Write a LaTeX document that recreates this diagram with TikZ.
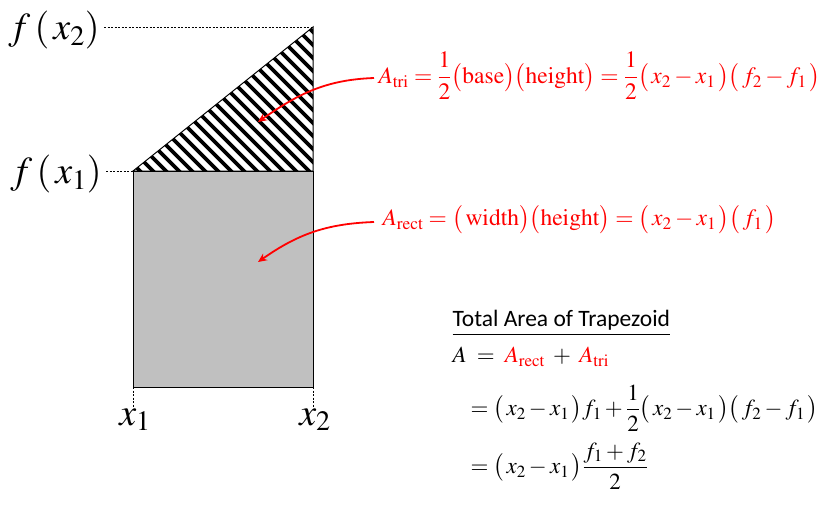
\documentclass[tikz,border=0pt]{standalone}
\usepackage{mathptmx}
\usepackage[no-math]{fontspec}
\setmainfont{Liberation Serif}
\newfontfamily\calibri{Carlito}
\usetikzlibrary{arrows.meta}
\definecolor{eqred}{RGB}{255,0,0}
\definecolor{rectgray}{RGB}{192,192,192}
\newcommand{\bp}[1]{\bigl(#1\bigr)}
\newcommand{\vp}[1]{\bigl(\,#1\,\bigr)}
\begin{document}
\begin{tikzpicture}[
    x=1pt, y=-1pt,
    line width=1pt,
    guide/.style={dashed, line width=0.8pt, dash pattern=on 2pt off 1.5pt},
    redarrow/.style={draw=eqred, line width=1.8pt, -{Stealth[length=9pt,width=8pt]}},
    axislabel/.style={inner sep=0pt, font=\fontsize{38}{44}\selectfont},
    redeq/.style={inner sep=0pt, anchor=west, text=eqred, font=\fontsize{23.5}{28}\selectfont},
    sumeq/.style={inner sep=0pt, anchor=west, font=\fontsize{23}{28}\selectfont}
]
  \useasboundingbox (0,0) rectangle (830,504);

  % corners
  \coordinate (BL) at (133,387);
  \coordinate (BR) at (313,387);
  \coordinate (ML) at (133,171);
  \coordinate (MR) at (313,171);
  \coordinate (TR) at (313,27);

  % rectangle
  \draw[fill=rectgray] (ML) rectangle (BR);

  % hatched triangle
  \begin{scope}
    \clip (ML) -- (MR) -- (TR) -- cycle;
    \foreach \c in {-44,-31,...,292}
      \draw[line width=3.6pt] (\c,0) -- ++(320,320);
  \end{scope}
  \draw (ML) -- (MR) -- (TR) -- cycle;

  % labels
  \node[axislabel, anchor=west] (fx2) at (8,30) {$f\,(\,x_2)$};
  \node[axislabel, anchor=west] (fx1) at (10,174) {$f\,(\,x_1)$};
  \node[axislabel, anchor=north] (x1) at (135,408) {$x_1$};
  \node[axislabel, anchor=north] (x2) at (315,408) {$x_2$};

  % guides
  \draw[guide] (fx2.east |- TR) ++(4,0) -- (TR);
  \draw[guide] (fx1.east |- ML) ++(4,0) -- (ML);
  \draw[guide] (BL) -- (BL |- x1.north);
  \draw[guide] (BR) -- (BR |- x2.north);

  % area formulas
  \node[redeq] (tri) at (378,76)
    {$\displaystyle A_{\mathrm{tri}} = \frac{1}{2}\bp{\mathrm{base}}\bp{\mathrm{height}} = \frac{1}{2}\vp{x_2 - x_1}\vp{f_2 - f_1}$};
  \node[redeq] (rect) at (382,220)
    {$\displaystyle A_{\mathrm{rect}} = \bp{\,\mathrm{width}}\bp{\mathrm{height}} = \vp{x_2 - x_1}\vp{f_1}$};

  \coordinate (tritip) at (258,122);
  \coordinate (recttip) at (258,262);
  \draw[redarrow] (tri.west) ++(-4,2) to[out=182,in=35] (tritip);
  \draw[redarrow] (rect.west) ++(-8,2) to[out=182,in=35] (recttip);

  % total area
  \node[inner sep=0pt, anchor=west, font=\calibri\fontsize{23.5}{28}\selectfont] (title) at (452,323)
    {\underline{Total Area of Trapezoid}};
  \node[sumeq] (sum1) at (452,357)
    {$A \;=\; \textcolor{eqred}{A_{\mathrm{rect}}} \;+\; \textcolor{eqred}{A_{\mathrm{tri}}}$};
  \node[sumeq] (sum2) at (470,408)
    {$\displaystyle = \vp{x_2 - x_1} f_1 + \frac{1}{2}\vp{x_2 - x_1}\vp{f_2 - f_1}$};
  \node[sumeq] (sum3) at (470,466)
    {$\displaystyle = \vp{x_2 - x_1}\frac{f_1 + f_2}{2}$};
\end{tikzpicture}
\end{document}
